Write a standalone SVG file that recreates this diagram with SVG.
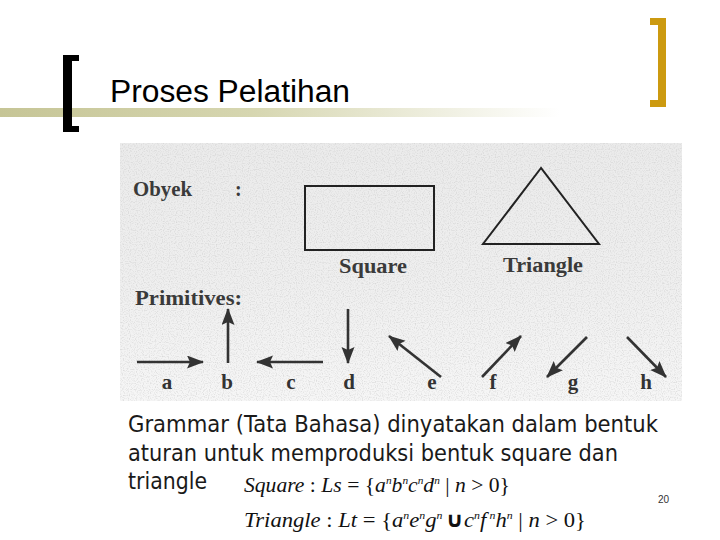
<svg xmlns="http://www.w3.org/2000/svg" width="720" height="540" viewBox="0 0 720 540">
<style>
.scan{font-family:"Liberation Serif","Times New Roman",serif;fill:#3a3a3a}
.lbl{font-family:"Liberation Serif","Times New Roman",serif;font-weight:bold;font-size:21px;fill:#333;text-anchor:middle}
.prim{stroke:#333;stroke-width:2.6;fill:none}
.shape{stroke:#222;stroke-width:2;fill:none}
.body{font-family:"DejaVu Sans","Liberation Sans",sans-serif;font-size:23px;fill:#1a1a1a}
.math{font-family:"Liberation Serif","Times New Roman",serif;font-style:italic;font-size:21px;fill:#111}
.sup{font-size:11px}
</style>
<defs>
<linearGradient id="rule" x1="0" y1="0" x2="1" y2="0">
<stop offset="0" stop-color="#c6c596"/>
<stop offset="0.45" stop-color="#d6d6b0"/>
<stop offset="1" stop-color="#ffffff"/>
</linearGradient>
<linearGradient id="paper" x1="0" y1="0" x2="0" y2="1">
<stop offset="0" stop-color="#ebebeb"/>
<stop offset="0.55" stop-color="#efefef"/>
<stop offset="1" stop-color="#f6f6f6"/>
</linearGradient>
<filter id="noise" x="0" y="0" width="100%" height="100%">
<feTurbulence type="fractalNoise" baseFrequency="0.85" numOctaves="1" seed="3" result="t"/>
<feColorMatrix in="t" type="matrix" values="0 0 0 0 0.6  0 0 0 0 0.6  0 0 0 0 0.6  0 0 0 -3 1.6" result="n"/>
<feComposite in="n" in2="SourceGraphic" operator="in"/>
</filter>
<marker id="ah" markerUnits="userSpaceOnUse" markerWidth="18" markerHeight="14" refX="16" refY="6.5" orient="auto">
<path d="M0,0 L17,6.5 L0,13 L3,6.5 z" fill="#333"/>
</marker>
</defs>

<!-- header -->
<g id="header">
<rect x="0" y="108" width="560" height="9" fill="url(#rule)"/>
<path d="M63,55 H79 V61 H72 V126 H79 V132 H63 Z" fill="#000"/>
<path d="M650,18 H666 V107 H650 V100 H658 V25 H650 Z" fill="#cc9a10"/>
<text x="110" y="102" font-family="Liberation Sans, Arial, sans-serif" font-size="31" fill="#000" textLength="240" lengthAdjust="spacingAndGlyphs">Proses Pelatihan</text>
</g>

<!-- scanned figure -->
<g id="scan">
<rect x="120" y="143" width="562" height="258" fill="url(#paper)"/>
<rect x="120" y="143" width="562" height="258" fill="#fff" filter="url(#noise)" opacity="0.6"/>
</g>

<g id="obyek">
<text class="scan" x="133" y="196" font-size="20" font-weight="bold" textLength="59" lengthAdjust="spacingAndGlyphs">Obyek</text>
<text class="scan" x="235" y="196" font-size="20" font-weight="bold">:</text>
</g>

<g id="square">
<rect class="shape" x="305" y="186" width="129" height="64"/>
<text class="scan" x="339" y="273" font-size="20" font-weight="bold" fill="#444" textLength="68" lengthAdjust="spacingAndGlyphs">Square</text>
</g>

<g id="triangle">
<path class="shape" d="M541,168 L483,244 L599,244 Z"/>
<text class="scan" x="503" y="272" font-size="20" font-weight="bold" fill="#444" textLength="80" lengthAdjust="spacingAndGlyphs">Triangle</text>
</g>

<g id="primitives-title">
<text class="scan" x="135" y="305" font-size="20" font-weight="bold" fill="#333" textLength="107" lengthAdjust="spacingAndGlyphs">Primitives:</text>
</g>

<g id="connectors">
<line class="prim" x1="137" y1="362" x2="203" y2="362" marker-end="url(#ah)"/>
<line class="prim" x1="228" y1="363" x2="228" y2="309" marker-end="url(#ah)"/>
<line class="prim" x1="323" y1="362" x2="257" y2="362" marker-end="url(#ah)"/>
<line class="prim" x1="348" y1="309" x2="348" y2="363" marker-end="url(#ah)"/>
<line class="prim" x1="441" y1="377" x2="389" y2="336" marker-end="url(#ah)"/>
<line class="prim" x1="482" y1="377" x2="521" y2="336" marker-end="url(#ah)"/>
<line class="prim" x1="587" y1="337" x2="547" y2="377" marker-end="url(#ah)"/>
<line class="prim" x1="627" y1="337" x2="666" y2="377" marker-end="url(#ah)"/>
</g>

<g id="labels">
<text class="lbl" x="167" y="389">a</text>
<text class="lbl" x="227" y="389">b</text>
<text class="lbl" x="291" y="389">c</text>
<text class="lbl" x="349" y="389">d</text>
<text class="lbl" x="432" y="389">e</text>
<text class="lbl" x="493" y="389">f</text>
<text class="lbl" x="573" y="389">g</text>
<text class="lbl" x="646" y="389">h</text>
</g>

<!-- body text -->
<g id="grammar">
<text class="body" x="128" y="432" textLength="530" lengthAdjust="spacingAndGlyphs">Grammar (Tata Bahasa) dinyatakan dalam bentuk</text>
<text class="body" x="128" y="461" textLength="490" lengthAdjust="spacingAndGlyphs">aturan untuk memproduksi bentuk square dan</text>
<text class="body" x="128" y="489" textLength="79" lengthAdjust="spacingAndGlyphs">triangle</text>
</g>

<g id="formula-square">
<text class="math" x="244" y="492" textLength="266" lengthAdjust="spacingAndGlyphs">Square<tspan font-style="normal"> : </tspan>Ls<tspan font-style="normal"> = {</tspan>a<tspan class="sup" dy="-8">n</tspan><tspan dy="8">b</tspan><tspan class="sup" dy="-8">n</tspan><tspan dy="8">c</tspan><tspan class="sup" dy="-8">n</tspan><tspan dy="8">d</tspan><tspan class="sup" dy="-8">n</tspan><tspan dy="8" font-style="normal"> | </tspan>n<tspan font-style="normal"> &gt; 0}</tspan></text>
</g>

<g id="formula-triangle">
<text class="math" x="244" y="527" textLength="342" lengthAdjust="spacingAndGlyphs">Triangle<tspan font-style="normal"> : </tspan>Lt<tspan font-style="normal"> = {</tspan>a<tspan class="sup" dy="-8">n</tspan><tspan dy="8">e</tspan><tspan class="sup" dy="-8">n</tspan><tspan dy="8">g</tspan><tspan class="sup" dy="-8">n</tspan><tspan dy="8" dx="3" font-style="normal" font-family="DejaVu Sans, sans-serif" font-weight="bold">∪</tspan>c<tspan class="sup" dy="-8">n</tspan><tspan dy="8">f</tspan><tspan class="sup" dy="-8" dx="3">n</tspan><tspan dy="8">h</tspan><tspan class="sup" dy="-8">n</tspan><tspan dy="8" font-style="normal"> | </tspan>n<tspan font-style="normal"> &gt; 0}</tspan></text>
</g>

<text x="658" y="503" font-family="Liberation Sans, Arial, sans-serif" font-size="10" fill="#333">20</text>
</svg>
